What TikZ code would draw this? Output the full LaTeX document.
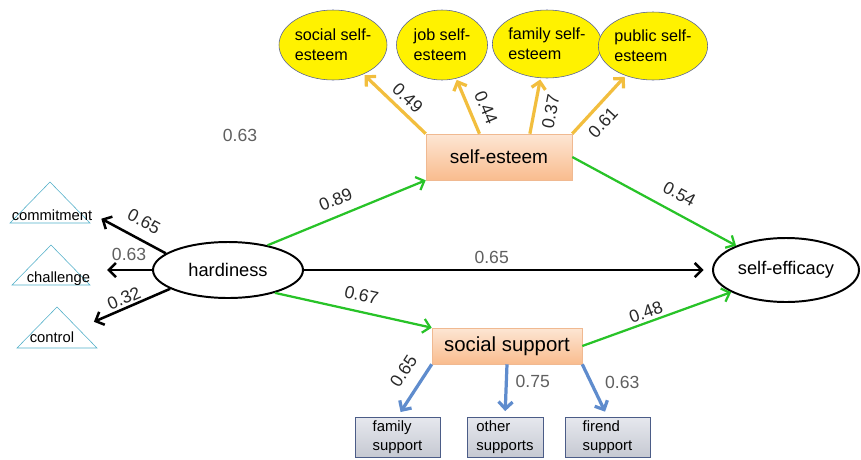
\documentclass[tikz,border=0pt]{standalone}
\usepackage{fontspec}
\setmainfont{Liberation Sans}
\usepackage{tikz}
\usetikzlibrary{shapes.geometric}
\usetikzlibrary{arrows.meta}

\definecolor{pathgreen}{RGB}{40,195,40}
\definecolor{pathgold}{RGB}{242,190,62}
\definecolor{pathblue}{RGB}{95,140,205}
\definecolor{boxline}{RGB}{240,185,145}
\definecolor{boxtop}{RGB}{253,230,212}
\definecolor{boxbot}{RGB}{249,188,142}
\definecolor{indline}{RGB}{75,92,135}
\definecolor{indtop}{RGB}{230,232,238}
\definecolor{indbot}{RGB}{198,201,210}
\definecolor{triline}{RGB}{80,175,200}
\definecolor{ellline}{RGB}{85,95,150}
\definecolor{coefgray}{RGB}{95,95,95}
\definecolor{coefdark}{RGB}{40,40,40}

\tikzstyle{sem}=[font=\fontsize{12.5}{14}\selectfont]
\tikzstyle{lat}=[ellipse, draw, line width=1.4pt, inner sep=0pt, font=\fontsize{13}{15}\selectfont]
\tikzstyle{med}=[rectangle, draw=boxline, thin, top color=boxtop, bottom color=boxbot, inner sep=0pt]
\tikzstyle{dim}=[ellipse, draw=ellline, thin, fill=yellow, inner sep=0pt, align=left, font=\fontsize{11.5}{14}\selectfont]
\tikzstyle{ind}=[rectangle, draw=indline, thin, top color=indtop, bottom color=indbot, inner sep=0pt, align=left, font=\fontsize{10.6}{14}\selectfont]
\tikzstyle{tri}=[draw=triline, thin]
\tikzstyle{trilabel}=[inner sep=1pt, anchor=base, font=\fontsize{10.5}{12}\selectfont]
\tikzstyle{kedge}=[-{Straight Barb[length=5pt,width=10pt]}, line width=1.8pt, black]
\tikzstyle{gedge}=[-{Straight Barb[length=5pt,width=10pt]}, line width=1.6pt, pathgreen]
\tikzstyle{yedge}=[-{Straight Barb[length=5pt,width=10pt]}, line width=2.3pt, pathgold, shorten >=1pt]
\tikzstyle{bedge}=[-{Straight Barb[length=5pt,width=10pt]}, line width=2.3pt, pathblue, shorten >=4pt]
\tikzstyle{coef}=[inner sep=1pt, text=coefdark, font=\fontsize{12.5}{14}\selectfont]
\tikzstyle{gcoef}=[inner sep=1pt, text=coefgray, font=\fontsize{12.5}{14}\selectfont]

\begin{document}
\begin{tikzpicture}[sem]
	\useasboundingbox (0,0) rectangle (21.525,-11.475);

	\draw (5.7,-6.75) node[lat, minimum width=3.75cm, minimum height=1.4cm] (hard) {hardiness};
	\draw (19.65,-6.75) node[lat, minimum width=3.65cm, minimum height=1.6cm] (eff) {self-efficacy};
	\draw (12.475,-3.925) node[med, minimum width=3.65cm, minimum height=1.15cm, font=\fontsize{13.5}{15}\selectfont] (este) {self-esteem};
	\draw (12.675,-8.65) node[med, minimum width=3.75cm, minimum height=0.9cm, font=\fontsize{14.5}{16}\selectfont] (soc) {social support};
	%%
	\draw (8.325,-1.125) node[dim, minimum width=2.5cm, minimum height=1.75cm] (ss1) {social self-\\esteem};
	\draw (11.05,-1.125) node[dim, minimum width=2.275cm, minimum height=1.75cm] (ss2) {job self-\\esteem};
	\draw (13.675,-1.1) node[dim, minimum width=2.25cm, minimum height=1.7cm] (ss3) {family self-\\esteem};
	\draw (16.325,-1.15) node[dim, minimum width=2.25cm, minimum height=1.7cm] (ss4) {public self-\\esteem};
	%%
	\draw (9.9375,-10.925) node[ind, minimum width=2.125cm, minimum height=1cm] (fam) {family\\support};
	\draw (12.625,-10.925) node[ind, minimum width=1.9cm, minimum height=1cm] (oth) {other\\supports};
	\draw (15.1875,-10.925) node[ind, minimum width=2.125cm, minimum height=1cm] (fri) {firend\\support};
	%%
	\draw[tri] (0.25,-5.575) -- (1.25,-4.55) -- (2.25,-5.575) -- cycle;
	\draw[tri] (0.3,-7.125) -- (1.275,-6.125) -- (2.25,-7.125) -- cycle;
	\draw[tri] (0.425,-8.7) -- (1.425,-7.675) -- (2.425,-8.7) -- cycle;
	\node[trilabel] (com) at (1.3,-5.5) {commitment};
	\node[trilabel] (cha) at (1.46,-7.05) {challenge};
	\node[trilabel] (con) at (1.3,-8.55) {control};

	\node[gcoef] (stray) at (6.0,-3.375) {0.63};

	%% hardiness
	\draw[kedge, shorten >=6pt] (hard.165) -- (com.east) node[coef, pos=0.42, sloped, above=6.5pt] {0.65};
	\draw[kedge, shorten >=11pt] (hard.west) -- (cha.east |- hard.west) node[gcoef, pos=0.38, above=4.5pt] {0.63};
	\draw[kedge, shorten >=14pt] (hard.198) -- (con.north east) node[coef, pos=0.45, sloped, above=0.5pt] {0.32};
	\draw[gedge] (hard.32) -- (este.south west) node[coef, pos=0.47, sloped, above=5.5pt] {0.89};
	\draw[kedge, shorten >=6pt] (hard.east) -- (eff.west) node[gcoef, pos=0.46, above=2.5pt] {0.65};
	\draw[gedge] (hard.-26) -- (soc.north west) node[coef, pos=0.53, sloped, above=5.5pt] {0.67};
	%% mediators
	\draw[gedge] (este.east) -- (eff.154) node[coef, pos=0.6, sloped, above=7pt] {0.54};
	\draw[gedge] (soc.east) -- (eff.202) node[coef, pos=0.45, sloped, above=1pt] {0.48};
	%%
	\draw[yedge] (este.north west) -- (ss1) node[coef, pos=0.44, sloped, above=3pt] {0.49};
	\draw[yedge] (este.130) -- (ss2) node[coef, pos=0.36, sloped, above=5pt] {0.44};
	\draw[yedge] (este.37) -- (ss3) node[coef, pos=0.45, sloped, below=5pt] {0.37};
	\draw[yedge] (este.north east) -- (ss4) node[coef, pos=0.37, sloped, below=4pt] {0.61};
	%%
	\draw[bedge] (soc.south west) -- (fam.north) node[coef, pos=0.34, sloped, above=7.5pt] {0.65};
	\draw[bedge] (soc.south) -- (oth.north) node[gcoef, pos=0.32, right=4.5pt] {0.75};
	\draw[bedge] (soc.south east) -- (fri.north) node[gcoef, pos=0.34, right=8pt] {0.63};
\end{tikzpicture}
\end{document}
